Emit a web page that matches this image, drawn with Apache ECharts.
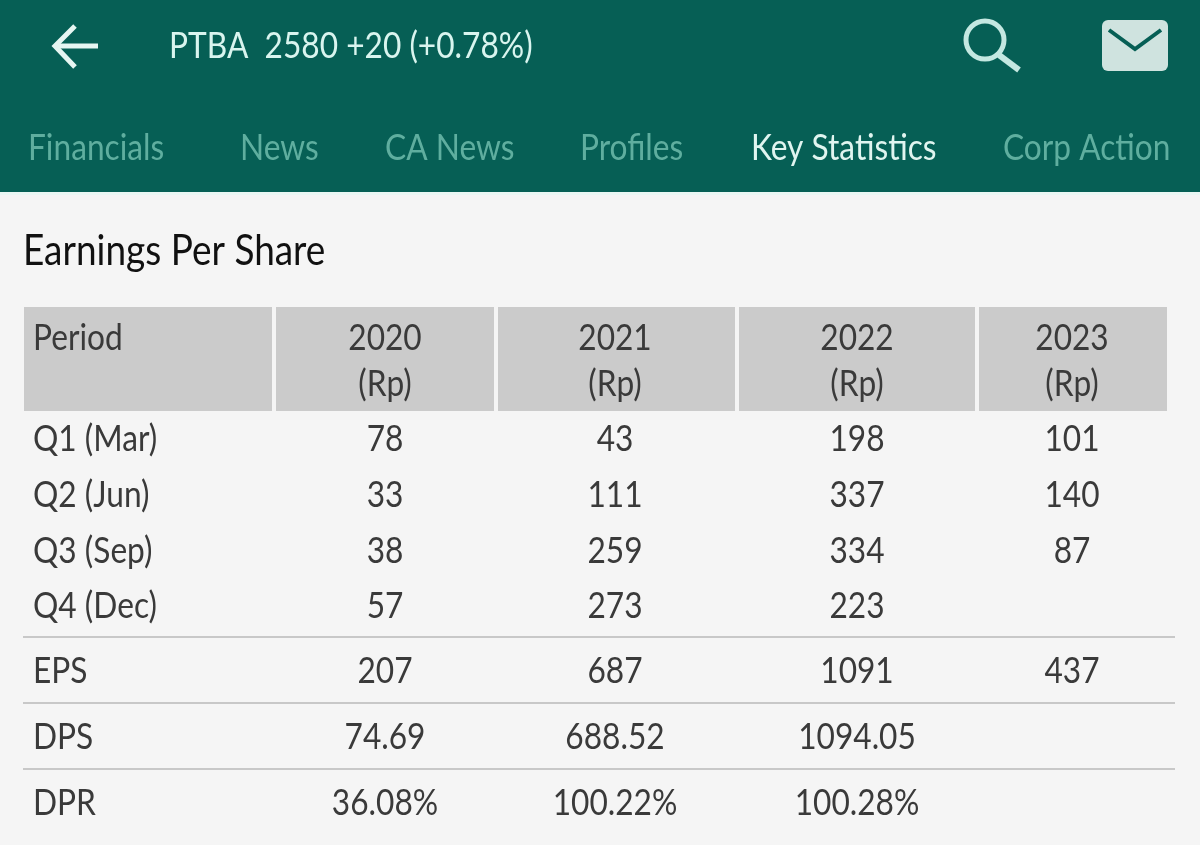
<!DOCTYPE html>
<html>
<head>
<meta charset="utf-8">
<style>html,body{margin:0;background:#f5f5f5}#chart{width:1200px;height:845px}</style>
<script src="https://cdn.jsdelivr.net/npm/echarts@6/dist/echarts.min.js"></script>
</head>
<body>
<div id="chart"></div>
<script>
const quote = "PTBA  2580 +20 (+0.78%)";
const tabs = ["Financials", "News", "CA News", "Profiles", "Key Statistics", "Corp Action"];
const activeTab = "Key Statistics";
const tableTitle = "Earnings Per Share";

const periodHeader = "Period";
const yearHeaders = ["2020", "2021", "2022", "2023"];
const unitHeader = "(Rp)";
const rowLabels = ["Q1 (Mar)", "Q2 (Jun)", "Q3 (Sep)", "Q4 (Dec)", "EPS", "DPS", "DPR"];
const values2020 = ["78", "33", "38", "57", "207", "74.69", "36.08%"];
const values2021 = ["43", "111", "259", "273", "687", "688.52", "100.22%"];
const values2022 = ["198", "337", "334", "223", "1091", "1094.05", "100.28%"];
const values2023 = ["101", "140", "87", "", "437", "", ""];

// table layout, in page pixels (the hidden axes run 0-1200 / 0-845)
const tabX = [28, 240, 385, 580, 751, 1003];
const colEdges = [[24, 272], [276, 494], [498, 735], [739, 975], [979, 1167]];
const colCenters = [385, 615, 857, 1072];
const rowY = [439, 495, 551, 606, 671, 737, 803];
const dividerY = [637, 703, 769];

const FONT = "Lato";
const SQUEEZE = 0.88; // reference type is narrower than anything installed
const GREEN = "#065f55";

// text squeezed horizontally around its anchor point
function squeezedText(x, y, text, fill, size, align) {
  return {
    type: "text",
    x, y,
    scaleX: SQUEEZE,
    style: {
      x: 0, y: 0, text, fill,
      align: align || "left", verticalAlign: "middle",
      font: `${size}px "${FONT}"`,
    },
  };
}

const cells = [];
[values2020, values2021, values2022, values2023].forEach((vals, c) => {
  vals.forEach((v, r) => cells.push([colCenters[c], rowY[r], v, "center"]));
});
rowLabels.forEach((label, r) => cells.push([33, rowY[r], label, "left"]));
yearHeaders.forEach((y, c) => {
  cells.push([colCenters[c], 338, y, "center"]);
  cells.push([colCenters[c], 384, unitHeader, "center"]);
});
cells.push([33, 338, periodHeader, "left"]);

const chart = echarts.init(document.getElementById("chart"));
chart.setOption({
  animation: false,
  backgroundColor: "#f5f5f5",
  grid: { left: 0, right: 0, top: 0, bottom: 0 },
  xAxis: { type: "value", min: 0, max: 1200, show: false },
  yAxis: { type: "value", min: 0, max: 845, inverse: true, show: false },
  graphic: [
    { type: "rect", shape: { x: 0, y: 0, width: 1200, height: 192 }, style: { fill: GREEN } },
    { type: "rect", shape: { x: 0, y: 192, width: 1200, height: 3 }, style: { fill: "#eaf7f4" } },
    { type: "polyline", shape: { points: [[98, 46], [55, 46]] }, style: { stroke: "#e6f6f2", lineWidth: 5, fill: null } },
    { type: "polyline", shape: { points: [[75, 26], [55, 46], [75, 67]] }, style: { stroke: "#e6f6f2", lineWidth: 5, fill: null } },
    squeezedText(169, 46, quote, "#d9f5ef", 36),
    { type: "circle", shape: { cx: 985, cy: 40, r: 19 }, style: { stroke: "#c4e8e1", lineWidth: 5, fill: null } },
    { type: "line", shape: { x1: 999, y1: 55, x2: 1019, y2: 70 }, style: { stroke: "#c4e8e1", lineWidth: 6 } },
    { type: "rect", shape: { x: 1102, y: 20, width: 66, height: 51, r: 6 }, style: { fill: "#cfe3df" } },
    { type: "polyline", shape: { points: [[1109, 30], [1135, 49], [1161, 30]] }, style: { stroke: GREEN, lineWidth: 4, fill: null } },
    ...tabs.map((t, i) => squeezedText(tabX[i], 148, t, t === activeTab ? "#e0f5f0" : "#5fae9f", 36)),
    squeezedText(23, 251, tableTitle, "#111111", 42),
  ],
  series: [
    {
      type: "custom",
      coordinateSystem: "cartesian2d",
      silent: true,
      data: colEdges,
      encode: { x: [0, 1] },
      renderItem(params, api) {
        const a = api.coord([api.value(0), 307]);
        const b = api.coord([api.value(1), 411]);
        return { type: "rect", shape: { x: a[0], y: a[1], width: b[0] - a[0], height: b[1] - a[1] }, style: { fill: "#cbcbcb" } };
      },
    },
    {
      type: "custom",
      coordinateSystem: "cartesian2d",
      silent: true,
      data: dividerY,
      encode: { y: 0 },
      renderItem(params, api) {
        const a = api.coord([23, api.value(0)]);
        const b = api.coord([1175, api.value(0)]);
        return { type: "line", shape: { x1: a[0], y1: a[1], x2: b[0], y2: b[1] }, style: { stroke: "#c8c8c8", lineWidth: 2 } };
      },
    },
    {
      type: "custom",
      coordinateSystem: "cartesian2d",
      silent: true,
      data: cells,
      encode: { x: 0, y: 1 },
      renderItem(params, api) {
        const p = api.coord([api.value(0), api.value(1)]);
        const row = cells[params.dataIndex];
        return squeezedText(p[0], p[1], row[2], "#3a3a3a", 36, row[3]);
      },
    },
  ],
});
window.addEventListener("resize", () => chart.resize());
</script>
</body>
</html>
